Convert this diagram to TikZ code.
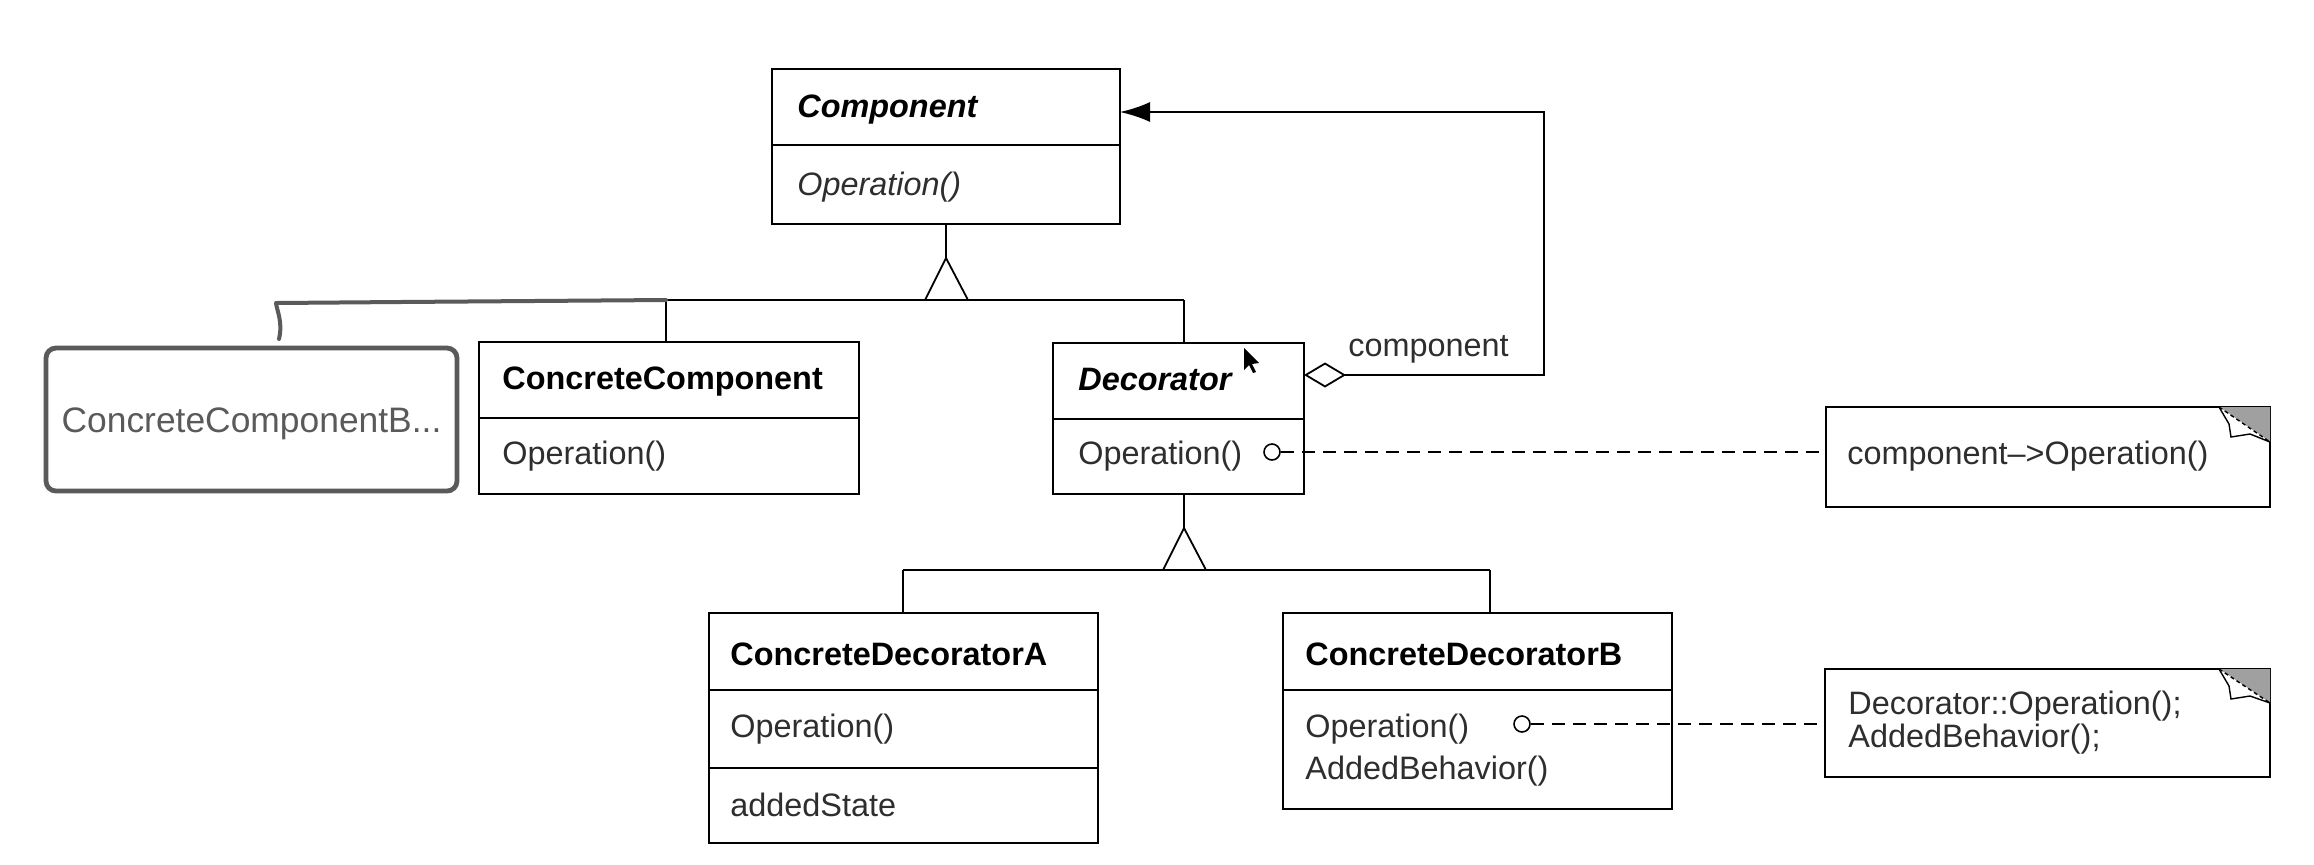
\documentclass[tikz,border=0pt]{standalone}
\usepackage{fontspec}
\setmainfont{Liberation Sans}
\usetikzlibrary{arrows.meta,fit,calc}
\newcommand\uf{\fontsize{16.2}{20}\selectfont}
\definecolor{txt}{HTML}{2E2E2E}
\definecolor{handgray}{HTML}{5A5A5A}
\definecolor{foldgray}{HTML}{A0A0A0}
\tikzset{
  classbox/.style={draw=black, line width=1.1pt, inner sep=0pt, rectangle},
  divline/.style={draw=black, line width=1.1pt},
  conn/.style={draw=black, line width=0.9pt},
  lbl/.style={anchor=west, inner sep=0pt, font=\uf, text=txt, yshift=-2pt},
  hdr/.style={anchor=west, inner sep=0pt, font=\uf\bfseries, text=black, yshift=-2pt},
  dashconn/.style={draw=black, line width=1pt, dash pattern=on 6.5pt off 4pt},
  lollipop/.style={circle, draw=black, line width=0.8pt, fill=white, minimum size=8pt, inner sep=0pt},
  notebox/.style={draw=black, line width=1.1pt, inner sep=0pt, rectangle},
  graybox/.style={draw=handgray, line width=2.4pt, rounded corners=5pt, inner sep=0pt, rectangle},
}
\begin{document}
\begin{tikzpicture}[x=0.5pt, y=-0.5pt]
\useasboundingbox (0,0) rectangle (2314,864);
\fill[white] (0,0) rectangle (2314,864);

% ---------- Component ----------
\node[classbox, fit={(772,69)(1120,224)}] (comp) {};
\draw[divline] (772,145) -- (1120,145);
\node[hdr] (compT) at (797,106) {\itshape Component};
\node[lbl] (compO) at (797,183) {\itshape Operation()};

% ---------- ConcreteComponent ----------
\node[classbox, fit={(479,342)(859,494)}] (cc) {};
\draw[divline] (479,418) -- (859,418);
\node[hdr] (ccT) at (502,378) {ConcreteComponent};
\node[lbl] (ccO) at (502,452) {Operation()};

% ---------- ConcreteComponentB (gray rounded) ----------
\node[graybox, fit={(46,348)(457,491)}] (gb) {};
\node[font=\fontsize{17.7}{21}\selectfont, text=handgray, inner sep=0pt, yshift=-2pt] (gbT) at (gb.center) {ConcreteComponentB...};

% ---------- Decorator ----------
\node[classbox, fit={(1053,343)(1304,494)}] (dec) {};
\draw[divline] (1053,419) -- (1304,419);
\node[hdr] (decT) at (1078,376) {\itshape Decorator};
\node[lbl] (decO) at (1078,452) {Operation()};

% ---------- ConcreteDecoratorA ----------
\node[classbox, fit={(709,613)(1098,843)}] (cda) {};
\draw[divline] (709,690) -- (1098,690);
\draw[divline] (709,768) -- (1098,768);
\node[hdr] (cdaT) at (730,650) {ConcreteDecoratorA};
\node[lbl] (cdaO) at (730,725) {Operation()};
\node[lbl] (cdaS) at (730,801) {addedState};

% ---------- ConcreteDecoratorB ----------
\node[classbox, fit={(1283,613)(1672,809)}] (cdb) {};
\draw[divline] (1283,690) -- (1672,690);
\node[hdr] (cdbT) at (1305,650) {ConcreteDecoratorB};
\node[lbl] (cdbO) at (1305,725) {Operation()};
\node[lbl] (cdbB) at (1305,767) {AddedBehavior()};

% ---------- Notes ----------
\node[notebox, fit={(1826,407)(2270,507)}] (n1) {};
\node[lbl] (n1T) at (1847,452) {component–>Operation()};
\fill[foldgray] (2219,407) -- (2270,407) -- (2270,442) -- cycle;
\draw[black, line width=0.7pt, fill=white] (2219,407) -- (2229,424) -- (2231,437) -- (2250,434) -- (2270,442);
\draw[black, line width=0.7pt, dash pattern=on 2pt off 1.5pt] (2219,407) -- (2270,442);

\node[notebox, fit={(1825,669)(2270,777)}] (n2) {};
\node[lbl] (n2a) at (1848,702) {Decorator::Operation();};
\node[lbl] (n2b) at (1848,735) {AddedBehavior();};
\fill[foldgray] (2219,669) -- (2270,669) -- (2270,703) -- cycle;
\draw[black, line width=0.7pt, fill=white] (2219,669) -- (2229,686) -- (2231,699) -- (2250,696) -- (2270,703);
\draw[black, line width=0.7pt, dash pattern=on 2pt off 1.5pt] (2219,669) -- (2270,703);

% ---------- Inheritance from Component ----------
\coordinate (t1) at (946,258);
\coordinate (bar1L) at (666,300);
\coordinate (bar1R) at (1184,300);
\coordinate (decTop) at (1184,343);
\coordinate (ccTop) at (666,342);
\draw[conn] (comp.south) -- (t1);
\draw[conn] (t1) -- (925,300) -- (968,300) -- cycle;
\draw[conn] (bar1L) -- (bar1R);
\draw[conn] (bar1L) -- (ccTop);
\draw[conn] (bar1R) -- (decTop);

% hand-drawn gray link to ConcreteComponentB
\coordinate (hookEnd) at (279,339);
\draw[handgray, line width=2pt, line cap=round, line join=round]
  (hookEnd) .. controls (283,322) and (277,311) .. (276,303) -- (400,302) -- (bar1L);

% ---------- Inheritance from Decorator ----------
\coordinate (decBot) at (1184,494);
\coordinate (t2) at (1184,528);
\coordinate (bar2L) at (903,570);
\coordinate (bar2R) at (1490,570);
\coordinate (cdaTop) at (903,613);
\coordinate (cdbTop) at (1490,613);
\draw[conn] (decBot) -- (t2);
\draw[conn] (t2) -- (1163,570) -- (1206,570) -- cycle;
\draw[conn] (bar2L) -- (bar2R);
\draw[conn] (bar2L) -- (cdaTop);
\draw[conn] (bar2R) -- (cdbTop);

% ---------- Aggregation: Decorator -> Component ----------
\coordinate (aggS) at (1304,375);
\coordinate (aggE) at (1120,112);
\draw[conn, {Diamond[open,length=21pt,width=12.5pt]}-{Latex[length=15pt,width=10pt]}]
  (aggS) -- (1544,375) -- (1544,112) -- (aggE);
\node[lbl] (aggL) at (1348,345) {component};

% ---------- Lollipops and dashed links to notes ----------
\node[lollipop] (c1) at (1272,452) {};
\draw[dashconn] (c1.east) -- (c1 -| n1.west);
\node[lollipop] (c2) at (1522,724) {};
\draw[dashconn] (c2.east) -- (c2 -| n2.west);

% ---------- mouse cursor ----------
\fill[black] (1244,348) -- (1244,370) -- (1249,365) -- (1253,373) -- (1256,372) -- (1252,364) -- (1259,363) -- cycle;
\end{tikzpicture}
\end{document}
